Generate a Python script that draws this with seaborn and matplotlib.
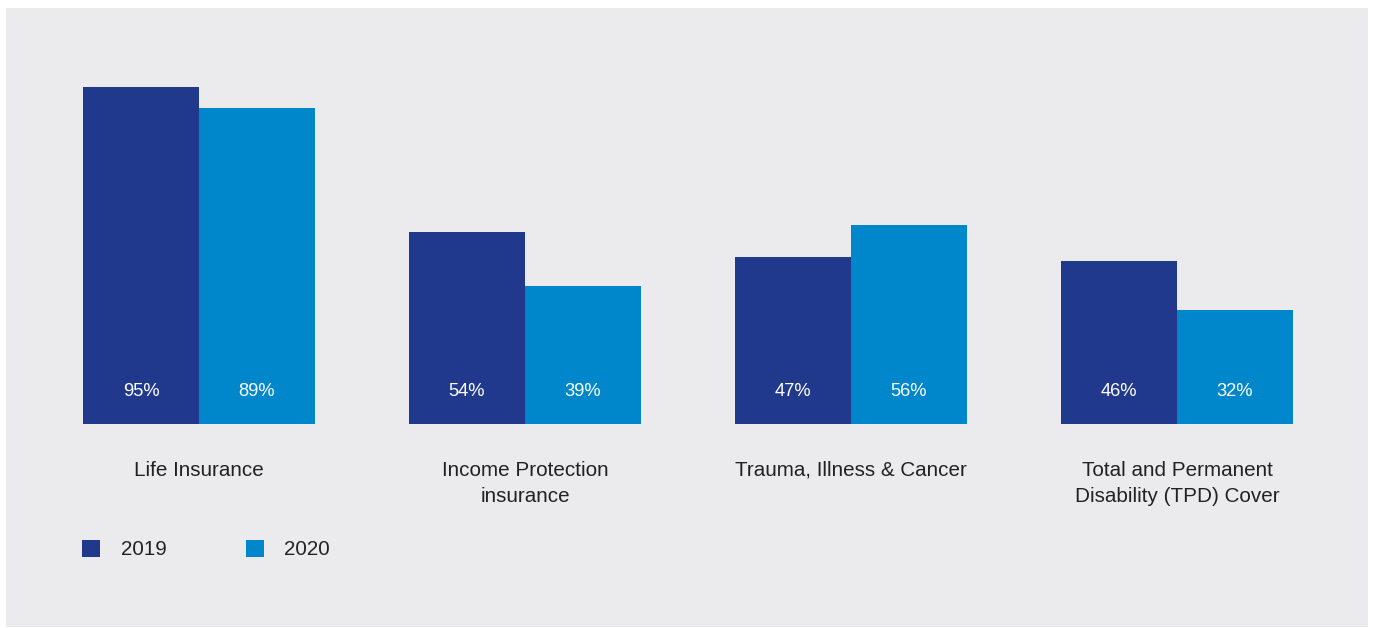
import matplotlib
matplotlib.use("Agg")
import matplotlib.pyplot as plt
from matplotlib.patches import Rectangle
import pandas as pd
import seaborn as sns

# ---- data ----
categories = [
    "Life Insurance",
    "Income Protection\ninsurance",
    "Trauma, Illness & Cancer",
    "Total and Permanent\nDisability (TPD) Cover",
]
years = ["2019", "2020"]
values_2019 = [95, 54, 47, 46]
values_2020 = [89, 39, 56, 32]

COLORS = {"2019": "#20398d", "2020": "#0086cb"}
PANEL = "#ebebed"
TEXT = "#222222"

df = pd.DataFrame({
    "category": categories * 2,
    "year": [years[0]] * len(categories) + [years[1]] * len(categories),
    "value": values_2019 + values_2020,
})

sns.set_theme(style="white")
plt.rcParams["font.family"] = ["Liberation Sans", "DejaVu Sans"]

W, H = 1373, 628
fig = plt.figure(figsize=(W / 100, H / 100), dpi=100, facecolor="white")
fig.patches.append(Rectangle((6 / W, 1 - 627 / H), 1362 / W, 619 / H,
                             transform=fig.transFigure, facecolor=PANEL,
                             edgecolor="none", zorder=-10))

# axes: baseline at y=424px, one category unit = 326px, first centre at 199px
base = 1 - 424 / H
ax = fig.add_axes([0, base, 1, 1 - base])
ax.patch.set_alpha(0)

sns.barplot(data=df, x="category", y="value", hue="year", order=categories,
            hue_order=years, palette=COLORS, width=0.712, saturation=1,
            linewidth=0, ax=ax)

ax.set_xlim(-199 / 326, (W - 199) / 326)
ax.set_ylim(0, 424 / 3.547)

for cont, yr in zip(ax.containers, years):
    for p, v in zip(cont, df.loc[df["year"] == yr, "value"]):
        ax.text(p.get_x() + p.get_width() / 2, 9.1, f"{v}%", color="white",
                ha="center", va="center", fontsize=13.2)

ax.set_xlabel("")
ax.set_ylabel("")
ax.set_yticks([])
ax.set_xticks(range(len(categories)))
ax.set_xticklabels(categories, fontsize=14.9, color=TEXT, linespacing=1.5)
ax.tick_params(axis="x", length=0, pad=26.5)
for s in ax.spines.values():
    s.set_visible(False)

sns.move_legend(ax, "center left", bbox_to_anchor=(82 / W, 1 - 549.5 / H),
                bbox_transform=fig.transFigure, ncol=2, frameon=False,
                title=None, fontsize=14.8, handlelength=0.88,
                handleheight=0.88, handletextpad=1.0, columnspacing=3.85,
                borderpad=0, borderaxespad=0)
for t in ax.get_legend().get_texts():
    t.set_color(TEXT)

fig.savefig("out.png", dpi=100, facecolor="white")
